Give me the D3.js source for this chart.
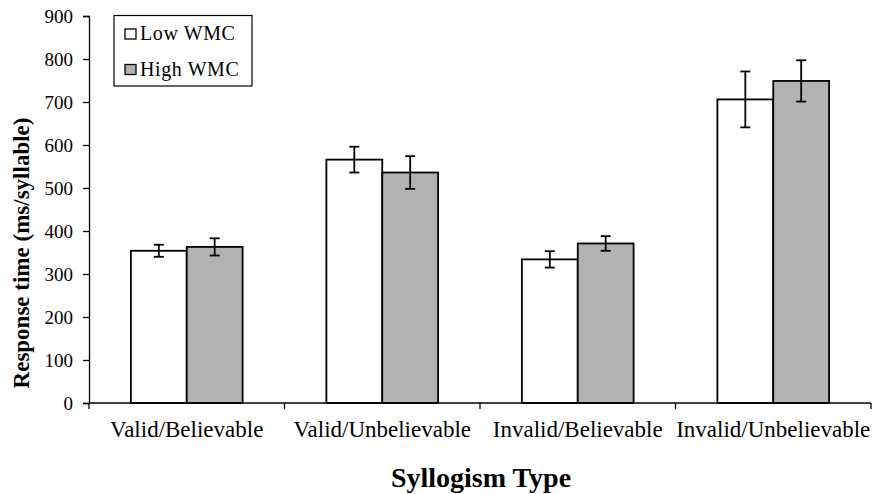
<!DOCTYPE html>
<html><head><meta charset="utf-8">
<script src="https://cdn.jsdelivr.net/npm/d3@7"></script>
<style>body{margin:0;background:#fff}svg{display:block}text{font-family:"Liberation Serif","Times New Roman",serif;fill:#000}</style>
</head><body><svg id="c" width="874" height="494"></svg>
<script>
const categories = ["Valid/Believable","Valid/Unbelievable","Invalid/Believable","Invalid/Unbelievable"];
const series = ["Low WMC","High WMC"];
const lowWMC = [354, 566, 334, 706];
const highWMC = [363, 536, 371, 749];
const lowErr = [14, 30, 19, 65];
const highErr = [20, 38, 17, 48];
const yTicks = [0,100,200,300,400,500,600,700,800,900];
const colors = ["#ffffff","#b2b2b2"];

const svg = d3.select("#c");
const left = 89, right = 871;
const x = d3.scaleBand().domain(categories).range([left, right]).paddingInner(0).paddingOuter(0);
const y = d3.scaleLinear().domain([0,900]).range([403, 16]);
const bw = x.bandwidth()/3.5;
const off = (x.bandwidth() - 2*bw)/2;

const data = [];
categories.forEach((c,i)=>{
  data.push({c, s:0, v:lowWMC[i], e:lowErr[i]});
  data.push({c, s:1, v:highWMC[i], e:highErr[i]});
});

svg.selectAll("rect.bar").data(data).enter().append("rect")
  .attr("x", d=> x(d.c) + off + d.s*bw)
  .attr("y", d=> y(d.v))
  .attr("width", bw)
  .attr("height", d=> y(0)-y(d.v))
  .attr("fill", d=> colors[d.s]).attr("stroke","#000").attr("stroke-width",1.8);

const eb = svg.append("g").attr("stroke","#000").attr("stroke-width",1.8);
data.forEach(d=>{
  const cx = x(d.c) + off + d.s*bw + bw/2;
  eb.append("line").attr("x1",cx).attr("x2",cx).attr("y1",y(d.v+d.e)).attr("y2",y(d.v-d.e));
  [d.v+d.e, d.v-d.e].forEach(v=> eb.append("line").attr("x1",cx-5).attr("x2",cx+5).attr("y1",y(v)).attr("y2",y(v)));
});

// y axis
const ya = svg.append("g").attr("transform",`translate(${left},0)`)
  .call(d3.axisLeft(y).tickValues(yTicks).tickSize(6).tickPadding(10));
ya.select(".domain").attr("stroke","#000").attr("stroke-width",1.3);
ya.selectAll(".tick line").attr("stroke","#000").attr("stroke-width",1.3);
ya.selectAll(".tick text").style("font-size","19px").style("font-family","Liberation Serif").attr("dy","0.34em");

// x axis
const xa = svg.append("g").attr("transform",`translate(0,${y(0)})`);
xa.append("line").attr("x1",left).attr("x2",right).attr("stroke","#000").attr("stroke-width",1.3);
const bounds = categories.map(c=>x(c)).concat([x(categories[categories.length-1])+x.bandwidth()]);
xa.selectAll("line.t").data(bounds).enter().append("line")
  .attr("x1",d=>d).attr("x2",d=>d).attr("y1",0).attr("y2",6).attr("stroke","#000").attr("stroke-width",1.3);
xa.selectAll("text").data(categories).enter().append("text")
  .attr("x", d=> x(d)+x.bandwidth()/2).attr("y", 34)
  .attr("text-anchor","middle").style("font-size","23px").text(d=>d);

svg.append("text").attr("x", 481).attr("y", 487).attr("text-anchor","middle")
  .style("font-size","28px").style("font-weight","bold").text("Syllogism Type");
svg.append("text").attr("transform","translate(29,253) rotate(-90)").attr("text-anchor","middle")
  .style("font-size","23px").style("font-weight","bold").text("Response time (ms/syllable)");

// legend
const lg = svg.append("g");
lg.append("rect").attr("x",114).attr("y",15.5).attr("width",138).attr("height",70.5)
  .attr("fill","#fff").attr("stroke","#000").attr("stroke-width",1.2);
series.forEach((s,i)=>{
  const yy = 34 + i*35.5;
  lg.append("rect").attr("x",125).attr("y",yy-5).attr("width",11).attr("height",10)
    .attr("fill",colors[i]).attr("stroke","#000").attr("stroke-width",1.3);
  lg.append("text").attr("x",140).attr("y",yy+6).style("font-size","20px").style("letter-spacing","0.6px").text(s);
});
</script></body></html>
